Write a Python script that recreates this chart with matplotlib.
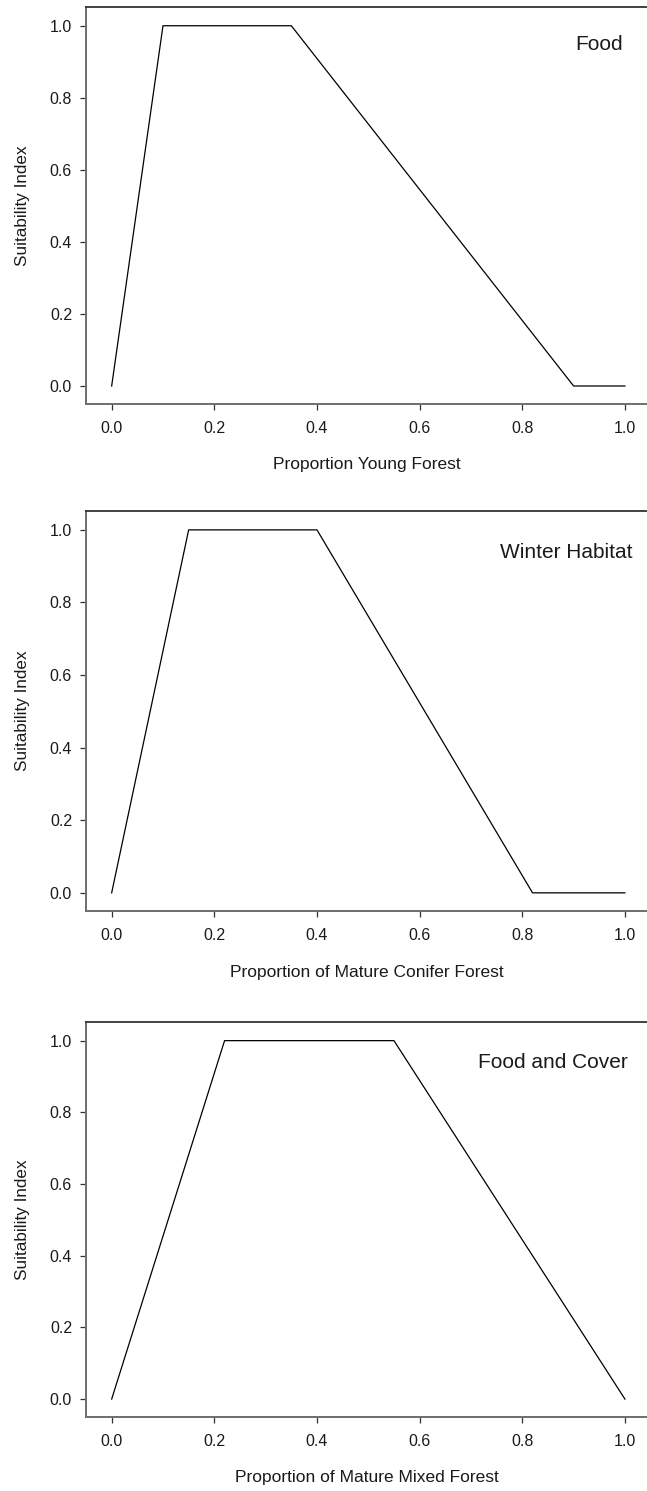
import matplotlib
matplotlib.use("Agg")
import matplotlib.pyplot as plt

plt.rcParams['font.family'] = ['Liberation Sans', 'DejaVu Sans']

# Data
food_x = [0.0, 0.10, 0.35, 0.90, 1.0]
food_y = [0.0, 1.0, 1.0, 0.0, 0.0]
winter_x = [0.0, 0.15, 0.40, 0.82, 1.0]
winter_y = [0.0, 1.0, 1.0, 0.0, 0.0]
cover_x = [0.0, 0.22, 0.55, 1.0]
cover_y = [0.0, 1.0, 1.0, 0.0]

xlabels = ["Proportion Young Forest",
           "Proportion of Mature Conifer Forest",
           "Proportion of Mature Mixed Forest"]
titles = ["Food", "Winter Habitat", "Food and Cover"]
title_x = [0.903, 0.757, 0.713]
title_y = [0.947, 0.939, 0.939]
ylabel = "Suitability Index"
ticks = [0.0, 0.2, 0.4, 0.6, 0.8, 1.0]
tick_labels = ["0.0", "0.2", "0.4", "0.6", "0.8", "1.0"]

W, H = 647, 1491
fig = plt.figure(figsize=(W / 100, H / 100), dpi=100)

# axes rectangles in pixels (left, top, right, bottom)
rects = [(86, 7, 647, 404), (86, 511, 647, 911), (86, 1022, 647, 1417)]
series = [(food_x, food_y), (winter_x, winter_y), (cover_x, cover_y)]

for i, ((l, t, r, b), (xs, ys)) in enumerate(zip(rects, series)):
    ax = fig.add_axes([l / W, 1 - b / H, (r - l) / W, (b - t) / H])
    ax.plot(xs, ys, color='black', lw=0.9)
    ax.set_xlim(-0.05, 1.043)
    ax.set_ylim(-0.05, 1.052)
    ax.set_xticks(ticks)
    ax.set_xticklabels(tick_labels)
    ax.set_yticks(ticks)
    ax.set_yticklabels(tick_labels)
    ax.spines['right'].set_visible(False)
    for s in ['left', 'bottom']:
        ax.spines[s].set_color('#6e6e6e')
        ax.spines[s].set_linewidth(1.4)
    ax.spines['top'].set_color('#333333')
    ax.spines['top'].set_linewidth(1.3)
    ax.tick_params(axis='both', direction='out', length=4, width=0.9,
                   color='#333333', labelsize=11.5, labelcolor='#1a1a1a')
    ax.tick_params(axis='x', pad=8)
    ax.tick_params(axis='y', pad=6)
    ax.set_xlabel(xlabels[i], fontsize=12.5, color='#1a1a1a')
    ax.set_ylabel(ylabel, fontsize=12.3, color='#1a1a1a')
    ax.yaxis.set_label_coords(-0.1, 0.5)
    ax.xaxis.set_label_coords(0.5, -0.134)
    ax.text(title_x[i], title_y[i], titles[i], fontsize=15, ha='left',
            va='center', color='#1a1a1a')

fig.savefig("out.png", dpi=100)
